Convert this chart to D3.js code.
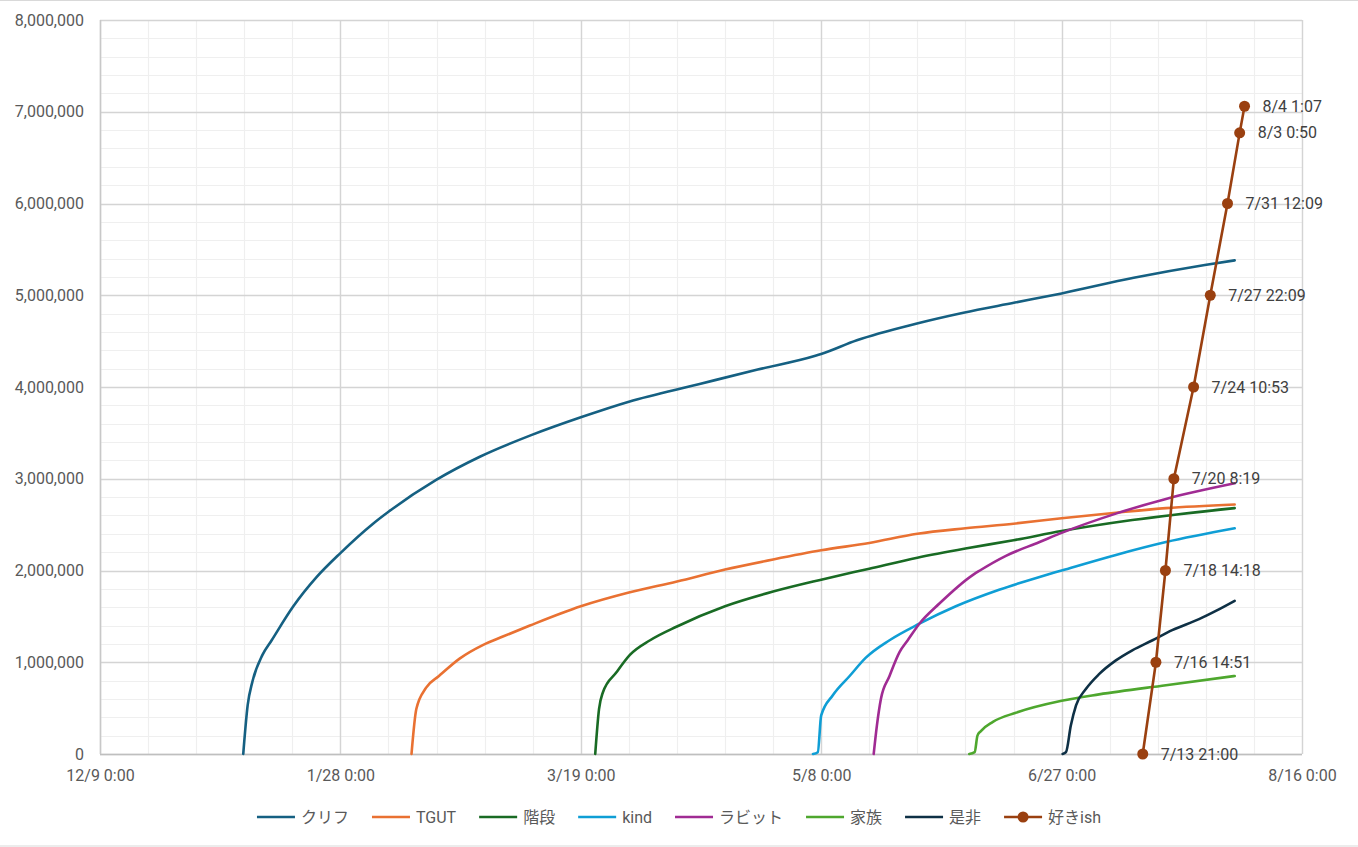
<!DOCTYPE html>
<html>
<head>
<meta charset="utf-8">
<script src="https://cdn.jsdelivr.net/npm/d3@7"></script>
<style>
  body { margin: 0; background: #fff; }
  svg { display: block; font-family: Roboto, "Noto Sans CJK JP", sans-serif; }
</style>
</head>
<body>
<svg id="chart"></svg>
<script>
// axis range
const xStart = "2024-12-09 00:00";
const xEnd = "2025-08-16 00:00";
const yMax = 8000000;

// cumulative counts per song
const cliff = [
  ["2025-01-07 19:00", 0], ["2025-01-08 17:00", 530000], ["2025-01-09 17:00", 790000],
  ["2025-01-11 19:00", 1080000], ["2025-01-13 17:00", 1240000], ["2025-01-18 05:00", 1610000],
  ["2025-01-23 02:00", 1930000], ["2025-01-28 00:00", 2190000], ["2025-02-03 19:00", 2510000],
  ["2025-02-07 00:00", 2640000], ["2025-02-17 00:00", 2990000], ["2025-02-26 00:00", 3240000],
  ["2025-03-08 10:00", 3470000], ["2025-03-19 00:00", 3670000], ["2025-03-29 00:00", 3840000],
  ["2025-04-12 12:00", 4030000], ["2025-04-24 19:00", 4190000], ["2025-05-06 19:00", 4340000],
  ["2025-05-08 00:00", 4360000], ["2025-05-15 10:00", 4510000], ["2025-05-27 17:00", 4690000],
  ["2025-06-06 14:00", 4810000], ["2025-06-17 07:00", 4920000], ["2025-06-27 00:00", 5020000],
  ["2025-07-12 00:00", 5190000], ["2025-07-26 19:00", 5330000], ["2025-08-02 00:00", 5380000]
];

const tgut = [
  ["2025-02-11 19:00", 0], ["2025-02-12 19:00", 490000], ["2025-02-14 19:00", 720000],
  ["2025-02-17 12:00", 850000], ["2025-02-21 19:00", 1040000], ["2025-02-26 17:00", 1190000],
  ["2025-03-02 19:00", 1280000], ["2025-03-08 10:00", 1400000], ["2025-03-19 00:00", 1610000],
  ["2025-03-29 00:00", 1760000], ["2025-04-08 00:00", 1880000], ["2025-04-18 00:00", 2010000],
  ["2025-04-28 00:00", 2120000], ["2025-05-08 00:00", 2220000], ["2025-05-18 00:00", 2300000],
  ["2025-05-28 00:00", 2400000], ["2025-06-07 00:00", 2460000], ["2025-06-17 00:00", 2510000],
  ["2025-06-27 00:00", 2570000], ["2025-07-08 07:00", 2630000], ["2025-07-18 17:00", 2680000],
  ["2025-08-02 00:00", 2720000]
];

const kaidan = [
  ["2025-03-22 00:00", 0], ["2025-03-22 19:00", 490000], ["2025-03-23 14:00", 670000],
  ["2025-03-26 10:00", 890000], ["2025-03-29 05:00", 1080000], ["2025-04-02 10:00", 1240000],
  ["2025-04-08 00:00", 1390000], ["2025-04-18 00:00", 1610000], ["2025-04-28 00:00", 1770000],
  ["2025-05-08 00:00", 1900000], ["2025-05-18 00:00", 2020000], ["2025-05-28 00:00", 2140000],
  ["2025-06-07 00:00", 2240000], ["2025-06-17 00:00", 2330000], ["2025-06-27 00:00", 2430000],
  ["2025-07-11 17:00", 2550000], ["2025-08-02 00:00", 2680000]
];

const kind = [
  ["2025-05-06 07:00", 0], ["2025-05-07 07:00", 20000], ["2025-05-08 00:00", 420000],
  ["2025-05-10 10:00", 640000], ["2025-05-13 22:00", 850000], ["2025-05-17 07:00", 1050000],
  ["2025-05-22 05:00", 1240000], ["2025-05-28 10:00", 1420000], ["2025-06-05 00:00", 1610000],
  ["2025-06-14 00:00", 1790000], ["2025-06-22 10:00", 1930000], ["2025-06-27 00:00", 2000000],
  ["2025-07-08 07:00", 2170000], ["2025-07-18 17:00", 2310000], ["2025-08-02 00:00", 2460000]
];

const rabbit = [
  ["2025-05-18 22:00", 0], ["2025-05-19 14:00", 310000], ["2025-05-20 10:00", 600000],
  ["2025-05-22 05:00", 850000], ["2025-05-24 07:00", 1110000], ["2025-05-26 00:00", 1240000],
  ["2025-05-28 10:00", 1420000], ["2025-06-01 14:00", 1640000], ["2025-06-08 12:00", 1950000],
  ["2025-06-10 00:00", 2000000], ["2025-06-15 10:00", 2160000], ["2025-06-22 10:00", 2310000],
  ["2025-06-27 00:00", 2410000], ["2025-07-08 07:00", 2620000], ["2025-07-18 17:00", 2780000],
  ["2025-08-02 00:00", 2950000]
];

const family = [
  ["2025-06-07 19:00", 0], ["2025-06-08 22:00", 20000], ["2025-06-09 12:00", 200000],
  ["2025-06-10 05:00", 250000], ["2025-06-12 17:00", 350000], ["2025-06-17 12:00", 450000],
  ["2025-06-27 00:00", 580000], ["2025-07-04 19:00", 650000], ["2025-07-18 17:00", 750000],
  ["2025-08-02 00:00", 850000]
];

const zehi = [
  ["2025-06-27 05:00", 0], ["2025-06-27 22:00", 20000], ["2025-06-28 22:00", 310000],
  ["2025-06-30 00:00", 530000], ["2025-07-02 02:00", 710000], ["2025-07-04 19:00", 870000],
  ["2025-07-08 07:00", 1020000], ["2025-07-11 17:00", 1130000], ["2025-07-15 22:00", 1240000],
  ["2025-07-20 00:00", 1350000], ["2025-07-25 14:00", 1470000], ["2025-07-29 02:00", 1560000],
  ["2025-08-02 00:00", 1670000]
];

// milestones, each one labelled with its time
const sukiish = [
  ["2025-07-13 21:00", 0], ["2025-07-16 14:51", 1000000], ["2025-07-18 14:18", 2000000],
  ["2025-07-20 08:19", 3000000], ["2025-07-24 10:53", 4000000], ["2025-07-27 22:09", 5000000],
  ["2025-07-31 12:09", 6000000], ["2025-08-03 00:50", 6770000], ["2025-08-04 01:07", 7060000]
];

const seriesNames = ["クリフ", "TGUT", "階段", "kind", "ラビット", "家族", "是非", "好きish"];
const seriesData = [cliff, tgut, kaidan, kind, rabbit, family, zehi, sukiish];
const seriesColors = ["#156082", "#e97132", "#196b24", "#0f9ed5", "#a02b93", "#4ea72e", "#0e3045", "#9a4010"];

const config = {
  containerWidth: 1358,
  containerHeight: 847,
  margin: { top: 20, right: 56, bottom: 93, left: 100 },
  fontSize: "16px"
};

const width = config.containerWidth - config.margin.left - config.margin.right;
const height = config.containerHeight - config.margin.top - config.margin.bottom;

const parseTime = d3.utcParse("%Y-%m-%d %H:%M");
const labelFormat = d3.utcFormat("%-m/%-d %-H:%M");
const start = parseTime(xStart);

const x = d3.scaleUtc().domain([start, parseTime(xEnd)]).range([0, width]);
const y = d3.scaleLinear().domain([0, yMax]).range([height, 0]);

const svg = d3.select("#chart")
  .attr("width", config.containerWidth)
  .attr("height", config.containerHeight);

// chart border (top / bottom edges visible)
svg.append("rect")
  .attr("x", -2).attr("y", 0.5)
  .attr("width", config.containerWidth + 4)
  .attr("height", config.containerHeight - 1.5)
  .attr("fill", "none")
  .attr("stroke", "#d9d9d9");

const chart = svg.append("g")
  .attr("transform", `translate(${config.margin.left},${config.margin.top})`);

// gridlines
const minorX = d3.range(0, 251, 10).map(d => d3.utcDay.offset(start, d));
const majorX = d3.range(0, 251, 50).map(d => d3.utcDay.offset(start, d));
const minorY = d3.range(0, yMax + 1, 200000);
const majorY = d3.range(0, yMax + 1, 1000000);

const grid = chart.append("g").attr("class", "grid");
grid.selectAll(".minor-x").data(minorX).join("line")
  .attr("x1", d => Math.round(x(d)) + 0.5).attr("x2", d => Math.round(x(d)) + 0.5)
  .attr("y1", 0).attr("y2", height)
  .attr("stroke", "#efefef").attr("stroke-width", 1.2);
grid.selectAll(".minor-y").data(minorY).join("line")
  .attr("x1", 0).attr("x2", width)
  .attr("y1", d => Math.round(y(d)) + 0.5).attr("y2", d => Math.round(y(d)) + 0.5)
  .attr("stroke", "#efefef").attr("stroke-width", 1.2);
grid.selectAll(".major-x").data(majorX).join("line")
  .attr("x1", d => Math.round(x(d)) + 0.5).attr("x2", d => Math.round(x(d)) + 0.5)
  .attr("y1", 0).attr("y2", height)
  .attr("stroke", "#d4d4d4").attr("stroke-width", 1.4);
grid.selectAll(".major-y").data(majorY).join("line")
  .attr("x1", 0).attr("x2", width)
  .attr("y1", d => Math.round(y(d)) + 0.5).attr("y2", d => Math.round(y(d)) + 0.5)
  .attr("stroke", "#d4d4d4").attr("stroke-width", 1.4);

// axes (labels only, lines drawn separately)
const yAxis = d3.axisLeft(y).tickValues(majorY).tickSize(0).tickPadding(16)
  .tickFormat(d3.format(","));
const xAxis = d3.axisBottom(x).tickValues(majorX).tickSize(0).tickPadding(16)
  .tickFormat(labelFormat);

const yAxisG = chart.append("g").call(yAxis);
const xAxisG = chart.append("g").attr("transform", `translate(0,${height})`).call(xAxis);
[yAxisG, xAxisG].forEach(g => {
  g.select(".domain").remove();
  g.selectAll(".tick text")
    .attr("font-size", config.fontSize)
    .attr("font-family", "Roboto, 'Noto Sans CJK JP', sans-serif")
    .attr("fill", "#595959");
});

chart.append("line")
  .attr("x1", 0).attr("x2", width)
  .attr("y1", height + 0.5).attr("y2", height + 0.5)
  .attr("stroke", "#bfbfbf").attr("stroke-width", 1.6);
chart.append("line")
  .attr("x1", 0.5).attr("x2", 0.5)
  .attr("y1", 0).attr("y2", height)
  .attr("stroke", "#c8c8c8").attr("stroke-width", 1.4);

// lines
const smoothLine = d3.line()
  .x(d => x(d.date))
  .y(d => y(d.value))
  .curve(d3.curveMonotoneX);
const straightLine = d3.line()
  .x(d => x(d.date))
  .y(d => y(d.value));

const toPoints = arr => arr.map(([t, v]) => ({ date: parseTime(t), value: v }));

seriesData.forEach((arr, i) => {
  const pts = toPoints(arr);
  const marked = seriesNames[i] === "好きish";
  chart.append("path")
    .attr("d", (marked ? straightLine : smoothLine)(pts))
    .attr("fill", "none")
    .attr("stroke", seriesColors[i])
    .attr("stroke-width", 2.6)
    .attr("stroke-linejoin", "round")
    .attr("stroke-linecap", "round");

  if (marked) {
    chart.selectAll(".marker").data(pts).join("circle")
      .attr("cx", d => x(d.date))
      .attr("cy", d => y(d.value))
      .attr("r", 5.5)
      .attr("fill", seriesColors[i]);

    chart.selectAll(".point-label").data(pts).join("text")
      .attr("x", d => x(d.date) + 18)
      .attr("y", d => y(d.value))
      .attr("dy", "0.35em")
      .attr("font-size", config.fontSize)
      .attr("fill", "#404040")
      .text(d => labelFormat(d.date));
  }
});

// legend
const legend = svg.append("g");
let cursor = 0;
seriesNames.forEach((name, i) => {
  const item = legend.append("g").attr("transform", `translate(${cursor},0)`);
  item.append("line")
    .attr("x1", 0).attr("x2", 38)
    .attr("stroke", seriesColors[i])
    .attr("stroke-width", 2.6);
  if (name === "好きish") {
    item.append("circle").attr("cx", 19).attr("r", 5.5).attr("fill", seriesColors[i]);
  }
  const label = item.append("text")
    .attr("x", 44)
    .attr("dy", "0.35em")
    .attr("font-size", config.fontSize)
    .attr("fill", "#595959")
    .text(name);
  cursor += 44 + label.node().getComputedTextLength() + 23;
});
const legendWidth = cursor - 23;
legend.attr("transform", `translate(${(config.containerWidth - legendWidth) / 2},817)`);
</script>
</body>
</html>
